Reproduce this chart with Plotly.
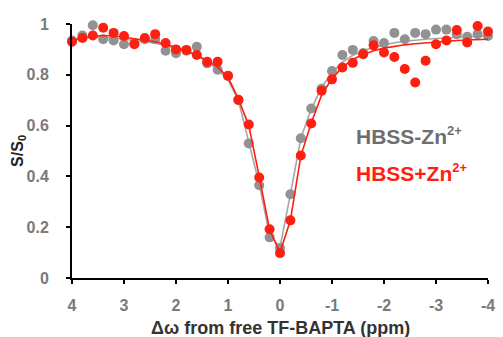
import plotly.graph_objects as go

# Frequency offsets (ppm)
offsets = [4.0, 3.8, 3.6, 3.4, 3.2, 3.0, 2.8, 2.6, 2.4, 2.2, 2.0, 1.8, 1.6, 1.4, 1.2, 1.0,
           0.8, 0.6, 0.4, 0.2, 0.0, -0.2, -0.4, -0.6, -0.8, -1.0, -1.2, -1.4, -1.6, -1.8,
           -2.0, -2.2, -2.4, -2.6, -2.8, -3.0, -3.2, -3.4, -3.6, -3.8, -4.0]

# HBSS-Zn2+ (gray) measured
gray_vals = [0.935, 0.955, 0.995, 0.94, 0.935, 0.92, 0.925, 0.94, 0.94, 0.895, 0.885, 0.895,
             0.91, 0.845, 0.82, 0.795, 0.70, 0.53, 0.365, 0.16, 0.118, 0.33, 0.55, 0.667,
             0.745, 0.815, 0.878, 0.898, 0.886, 0.933, 0.925, 0.965, 0.94, 0.965, 0.96,
             0.978, 0.978, 0.96, 0.95, 0.96, 0.953]
# HBSS-Zn2+ fit
gray_fit = [0.94, 0.945, 0.948, 0.948, 0.945, 0.94, 0.935, 0.93, 0.924, 0.915, 0.905, 0.892,
            0.875, 0.852, 0.82, 0.78, 0.70, 0.54, 0.37, 0.17, 0.12, 0.33, 0.55, 0.665,
            0.75, 0.81, 0.85, 0.877, 0.895, 0.908, 0.918, 0.926, 0.932, 0.937, 0.94,
            0.943, 0.946, 0.948, 0.95, 0.952, 0.953]

# HBSS+Zn2+ (red) measured
red_vals = [0.93, 0.945, 0.955, 0.985, 0.965, 0.953, 0.92, 0.945, 0.96, 0.925, 0.90, 0.898,
            0.878, 0.851, 0.851, 0.796, 0.702, 0.604, 0.396, 0.192, 0.098, 0.227, 0.482,
            0.608, 0.737, 0.782, 0.829, 0.847, 0.881, 0.916, 0.888, 0.87, 0.823, 0.77,
            0.855, 0.92, 0.935, 0.976, 0.927, 0.992, 0.97]
# HBSS+Zn2+ fit
red_fit = [0.935, 0.945, 0.952, 0.955, 0.953, 0.948, 0.942, 0.937, 0.93, 0.92, 0.908, 0.895,
           0.878, 0.856, 0.83, 0.79, 0.705, 0.60, 0.40, 0.19, 0.10, 0.227, 0.48, 0.61,
           0.72, 0.785, 0.83, 0.86, 0.88, 0.895, 0.905, 0.913, 0.918, 0.922, 0.926,
           0.93, 0.932, 0.935, 0.937, 0.939, 0.94]

x_tickvals = [4, 3, 2, 1, 0, -1, -2, -3, -4]
x_ticktext = ["4", "3", "2", "1", "0", "-1", "-2", "-3", "-4"]
y_tickvals = [0, 0.2, 0.4, 0.6, 0.8, 1]
y_ticktext = ["0", "0.2", "0.4", "0.6", "0.8", "1"]

GRAY_M = "#929292"
GRAY_L = "#a3a7ab"
RED = "#ff1e0f"
FONT = "Liberation Sans, Arial, sans-serif"

fig = go.Figure()
fig.add_trace(go.Scatter(x=offsets, y=gray_fit, mode="lines",
                         line=dict(color=GRAY_L, width=1.6), cliponaxis=False,
                         showlegend=False, hoverinfo="skip"))
fig.add_trace(go.Scatter(x=offsets, y=gray_vals, mode="markers",
                         marker=dict(color=GRAY_M, size=10, line=dict(width=0)),
                         cliponaxis=False, showlegend=False))
fig.add_trace(go.Scatter(x=offsets, y=red_fit, mode="lines",
                         line=dict(color=RED, width=1.6), cliponaxis=False,
                         showlegend=False, hoverinfo="skip"))
fig.add_trace(go.Scatter(x=offsets, y=red_vals, mode="markers",
                         marker=dict(color=RED, size=10, line=dict(width=0)),
                         cliponaxis=False, showlegend=False))

# The page body has an 8px margin, so the figure is sized to fit the 503x337 window.
fig.update_layout(
    width=495, height=329,
    margin=dict(l=64, r=8, t=15, b=59),
    paper_bgcolor="white", plot_bgcolor="white",
    font=dict(family=FONT),
    xaxis=dict(range=[4, -4], tickvals=x_tickvals, ticktext=x_ticktext,
               showgrid=False, zeroline=False, showline=True, linecolor="black",
               linewidth=2, ticks="outside", ticklen=4, tickwidth=2, tickcolor="black",
               tickfont=dict(size=16, color="#7a7a7a", family=FONT, weight="bold"),
               ticklabelstandoff=8),
    yaxis=dict(range=[0, 1], tickvals=y_tickvals, ticktext=y_ticktext,
               showgrid=False, zeroline=False, showline=True, linecolor="black",
               linewidth=2, ticks="outside", ticklen=4, tickwidth=2, tickcolor="black",
               tickfont=dict(size=16, color="#7a7a7a", family=FONT, weight="bold"),
               ticklabelstandoff=14),
)

fig.add_annotation(text="S/S<sub>0</sub>", xref="paper", yref="paper", x=-0.13, y=0.5,
                   xanchor="center", yanchor="middle",
                   textangle=-90, showarrow=False,
                   font=dict(size=16, color="#222222", family=FONT, weight="bold"))
fig.add_annotation(text="Δω from free TF-BAPTA (ppm)", xref="x", yref="paper", x=0.0, y=-0.196,
                   showarrow=False, yanchor="middle",
                   font=dict(size=18, color="#333333", family=FONT, weight="bold"))
fig.add_annotation(text="HBSS-Zn<sup><span style='font-size:13px'>2+</span></sup>",
                   xref="x", yref="y", x=-1.42, y=0.56,
                   xanchor="left", yanchor="middle", showarrow=False,
                   font=dict(size=21, color="#6e6e6e", family=FONT, weight="bold"))
fig.add_annotation(text="HBSS+Zn<sup><span style='font-size:13px'>2+</span></sup>",
                   xref="x", yref="y", x=-1.42, y=0.415,
                   xanchor="left", yanchor="middle", showarrow=False,
                   font=dict(size=21, color=RED, family=FONT, weight="bold"))

fig.write_html("out.html")
